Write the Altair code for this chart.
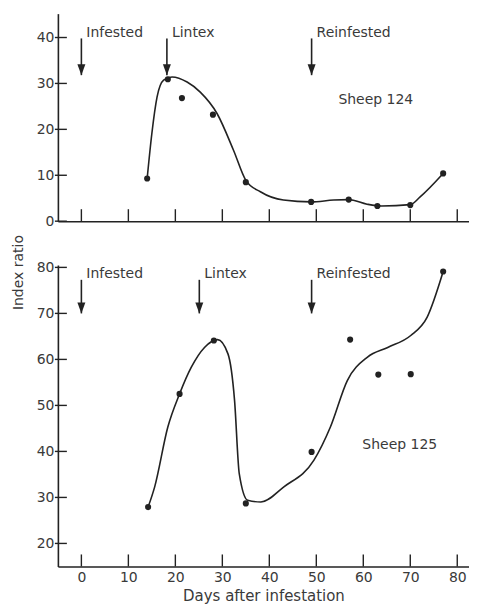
import altair as alt
import pandas as pd

# ---- data ----
days_124 = [14.0, 18.4, 21.4, 28.0, 35.0, 48.9, 56.9, 63.0, 70.0, 77.0]
ratio_124 = [9.3, 30.9, 26.8, 23.2, 8.5, 4.2, 4.7, 3.3, 3.5, 10.4]
curve_days_124 = [14.0, 15.0, 16.1, 17.5, 19.3, 22.5, 25.3, 28.9, 32.4, 35.0,
                  38.1, 43.0, 48.9, 53.7, 56.9, 60.8, 63.9, 70.0, 72.1, 77.0]
curve_ratio_124 = [9.3, 19.1, 27.0, 30.7, 31.4, 30.3, 28.1, 23.4, 15.4, 8.9,
                   6.4, 4.6, 4.2, 4.6, 4.7, 3.7, 3.3, 3.6, 5.3, 10.4]

days_125 = [14.2, 20.9, 28.2, 35.0, 49.0, 57.2, 63.2, 70.1, 77.0]
ratio_125 = [27.9, 52.5, 64.1, 28.7, 39.9, 64.3, 56.7, 56.8, 79.1]
curve_days_125 = [14.2, 15.6, 18.4, 20.9, 23.4, 26.2, 29.0, 31.2, 32.6, 33.6, 35.4,
                  38.2, 43.1, 49.5, 53.0, 56.6, 60.9, 65.2, 70.1, 73.6, 77.0]
curve_ratio_125 = [27.9, 32.3, 45.3, 52.5, 58.3, 62.6, 64.3, 61.2, 51.1, 35.2, 29.4,
                   29.0, 32.3, 38.1, 45.3, 55.4, 60.5, 62.6, 65.2, 69.2, 79.1]

events = ["Infested", "Lintex", "Reinfested"]
event_days_124 = [0, 18.2, 49.0]
event_days_125 = [0, 25.1, 49.0]
arrow_top_124, arrow_tip_124, label_y_124 = 39.8, 31.8, 40.9
arrow_top_125, arrow_tip_125, label_y_125 = 77.3, 70.0, 78.6

sheep_labels = ["Sheep 124", "Sheep 125"]
sheep_label_x = [54.7, 59.8]
sheep_label_y = [26.3, 41.3]

x_ticks = [0, 10, 20, 30, 40, 50, 60, 70, 80]
y_ticks_124 = [0, 10, 20, 30, 40]
y_ticks_125 = [20, 30, 40, 50, 60, 70, 80]

X_DOMAIN = [-5, 82.5]
FONT = "DejaVu Sans"
INK = "#222222"
TXT = "#3a3a3a"
W = 412
H1 = 208
H2 = 302


def panel(days, ratio, cdays, cratio, ev_days, a_top, a_tip, lab_y,
          sheep, sx, sy, y_dom, y_ticks, h, bottom):
    pts = pd.DataFrame({"day": days, "ratio": ratio})
    crv = pd.DataFrame({"day": cdays, "ratio": cratio})
    ev = pd.DataFrame({"day": ev_days, "event": events,
                       "top": [a_top] * 3, "tip": [a_tip] * 3, "ly": [lab_y] * 3})
    sh = pd.DataFrame({"day": [sx], "ratio": [sy], "label": [sheep]})
    xt = pd.DataFrame({"day": x_ticks})
    yt = pd.DataFrame({"ratio": y_ticks})

    if bottom:
        x_axis = alt.Axis(values=x_ticks, ticks=False, grid=False, labelPadding=4,
                          title="Days after infestation", titlePadding=4,
                          labelFontSize=14, titleFontSize=15)
        y_axis = alt.Axis(values=y_ticks, ticks=False, grid=False, labelPadding=4,
                          title="Index ratio", titleX=-39, titleY=7,
                          titleAngle=270, titleAlign="center", titleBaseline="middle",
                          labelFontSize=14, titleFontSize=14)
    else:
        x_axis = alt.Axis(values=x_ticks, ticks=False, grid=False, labels=False, title=None)
        y_axis = alt.Axis(values=y_ticks, ticks=False, grid=False, labelPadding=4,
                          title=None, labelFontSize=14)

    xs = alt.Scale(domain=X_DOMAIN, nice=False, zero=False)
    ys = alt.Scale(domain=y_dom, nice=False, zero=False)

    base_x = alt.X("day:Q", scale=xs, axis=x_axis)
    base_y = alt.Y("ratio:Q", scale=ys, axis=y_axis)

    line = alt.Chart(crv).mark_line(color=INK, strokeWidth=1.6,
                                    interpolate="monotone").encode(
        x=base_x, y=base_y, order="day:Q")
    dots = alt.Chart(pts).mark_circle(color=INK, opacity=1, size=38).encode(
        x=alt.X("day:Q", scale=xs), y=alt.Y("ratio:Q", scale=ys))
    shaft = alt.Chart(ev).mark_rule(color=INK, strokeWidth=1.6).encode(
        x=alt.X("day:Q", scale=xs), y=alt.Y("top:Q", scale=ys), y2="tip:Q")
    head = alt.Chart(ev).mark_point(shape="M-0.8,-2.2L0.8,-2.2L0,0Z", filled=True,
                                    color=INK, opacity=1, size=100).encode(
        x=alt.X("day:Q", scale=xs), y=alt.Y("tip:Q", scale=ys))
    labels = alt.Chart(ev).mark_text(align="left", baseline="middle", dx=5,
                                     font=FONT, fontSize=14, color=TXT).encode(
        x=alt.X("day:Q", scale=xs), y=alt.Y("ly:Q", scale=ys), text="event:N")
    sheep_txt = alt.Chart(sh).mark_text(align="left", baseline="middle",
                                        font=FONT, fontSize=14, color=TXT).encode(
        x=alt.X("day:Q", scale=xs), y=alt.Y("ratio:Q", scale=ys), text="label:N")
    xtick = alt.Chart(xt).mark_rule(color=INK, strokeWidth=1.4).encode(
        x=alt.X("day:Q", scale=xs), y=alt.value(h), y2=alt.value(h - 12))
    ytick = alt.Chart(yt).mark_rule(color=INK, strokeWidth=1.4).encode(
        y=alt.Y("ratio:Q", scale=ys), x=alt.value(-3), x2=alt.value(9))

    return alt.layer(line, dots, shaft, head, labels, sheep_txt, xtick, ytick).properties(
        width=W, height=h)


top = panel(days_124, ratio_124, curve_days_124, curve_ratio_124, event_days_124,
            arrow_top_124, arrow_tip_124, label_y_124,
            sheep_labels[0], sheep_label_x[0], sheep_label_y[0],
            [0, 45.2], y_ticks_124, H1, False)
bot = panel(days_125, ratio_125, curve_days_125, curve_ratio_125, event_days_125,
            arrow_top_125, arrow_tip_125, label_y_125,
            sheep_labels[1], sheep_label_x[1], sheep_label_y[1],
            [15, 80.5], y_ticks_125, H2, True)

chart = alt.vconcat(top, bot, spacing=6).properties(
    padding={"left": 3, "top": 5, "right": 0, "bottom": 0}
).configure_view(stroke=None).configure_axis(
    domainColor=INK, domainWidth=1.6, labelColor=TXT, titleColor=TXT,
    labelFont=FONT, titleFont=FONT, titleFontWeight="normal"
)

chart.save("out.html", embed_options={"renderer": "svg", "actions": False})
